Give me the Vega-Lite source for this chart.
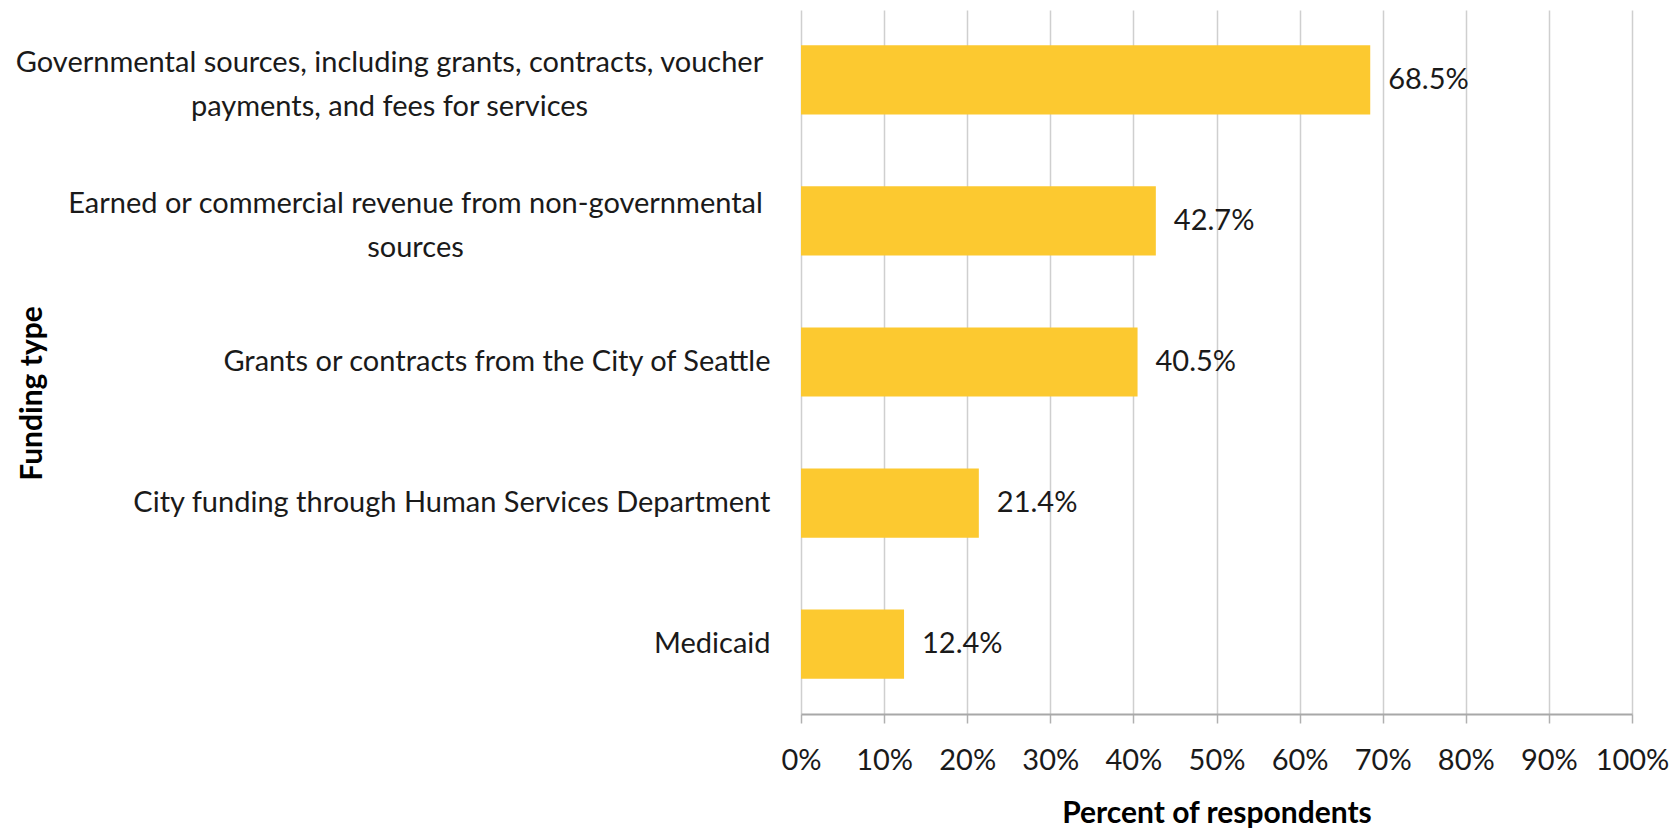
{
  "$schema": "https://vega.github.io/schema/vega-lite/v6.json",
  "autosize": "none",
  "width": 831,
  "height": 704,
  "padding": {"left": 801, "top": 10, "right": 46, "bottom": 116},
  "background": "white",
  "data": {
    "values": [
      {"type": "Governmental sources, including grants, contracts, voucher|payments, and fees for services", "pct": 0.685},
      {"type": "Earned or commercial revenue from non-governmental|sources", "pct": 0.427},
      {"type": "Grants or contracts from the City of Seattle", "pct": 0.405},
      {"type": "City funding through Human Services Department", "pct": 0.214},
      {"type": "Medicaid", "pct": 0.124}
    ]
  },
  "encoding": {
    "x": {
      "field": "pct",
      "type": "quantitative",
      "scale": {"domain": [0, 1], "nice": false},
      "axis": {
        "title": "Percent of respondents",
        "titleFont": "Lato",
        "titleFontSize": 30,
        "titleFontWeight": "bold",
        "titleColor": "#000000",
        "titleBaseline": "alphabetic",
        "titleY": 108,
        "format": "%",
        "values": [0, 0.1, 0.2, 0.3, 0.4, 0.5, 0.6, 0.7, 0.8, 0.9, 1],
        "labelFont": "Lato",
        "labelFontSize": 29,
        "labelColor": "#1a1a1a",
        "labelPadding": 23,
        "labelBaseline": "top",
        "labelFlush": false,
        "tickSize": 9,
        "tickColor": "#b0b0b0",
        "tickWidth": 1.5,
        "domainColor": "#a8a8a8",
        "domainWidth": 2,
        "grid": true,
        "gridColor": "#cfcfcf",
        "gridWidth": 1.5
      }
    }
  },
  "layer": [
    {
      "mark": {"type": "bar", "color": "#FCC930"},
      "encoding": {
        "y": {
          "field": "type",
          "type": "nominal",
          "sort": null,
          "scale": {
            "domain": [
              "Governmental sources, including grants, contracts, voucher|payments, and fees for services",
              "Earned or commercial revenue from non-governmental|sources",
              "Grants or contracts from the City of Seattle",
              "City funding through Human Services Department",
              "Medicaid"
            ],
            "paddingInner": 0.51,
            "paddingOuter": 0.25
          },
          "axis": {
            "orient": "left",
            "title": "Funding type",
            "titleFont": "Lato",
            "titleFontSize": 30,
            "titleFontWeight": "bold",
            "titleColor": "#000000",
            "titleAngle": 270,
            "titleAlign": "center",
            "titleBaseline": "middle",
            "titleX": -769,
            "titleY": 383,
            "labelExpr": "indexof(datum.label, '|') >= 0 ? '' : datum.label",
            "labelFont": "Lato",
            "labelFontSize": 29,
            "labelColor": "#1a1a1a",
            "labelPadding": 31,
            "labelLimit": 900,
            "labelAlign": "right",
            "domain": false,
            "ticks": false,
            "grid": false
          }
        }
      }
    },
    {
      "transform": [{"filter": "indexof(datum.type, 'Earned') !== 0"}],
      "mark": {"type": "text", "align": "left", "baseline": "middle", "dx": 18, "font": "Lato", "fontSize": 29, "color": "#1a1a1a"},
      "encoding": {
        "y": {
          "field": "type",
          "type": "nominal",
          "sort": null,
          "axis": {
            "orient": "left",
            "title": null,
            "offset": 381,
            "labelExpr": "indexof(datum.label, 'Governmental') === 0 ? split(datum.label, '|') : ''",
            "labelFont": "Lato",
            "labelFontSize": 29,
            "labelColor": "#1a1a1a",
            "labelLineHeight": 44,
            "labelPadding": 31,
            "labelLimit": 900,
            "labelAlign": "center",
            "labelOffset": -17,
            "domain": false,
            "ticks": false,
            "grid": false
          }
        },
        "text": {"field": "pct", "type": "quantitative", "format": ".1%"}
      }
    },
    {
      "transform": [{"filter": "indexof(datum.type, 'Earned') === 0"}],
      "mark": {"type": "text", "align": "left", "baseline": "middle", "dx": 18, "font": "Lato", "fontSize": 29, "color": "#1a1a1a"},
      "encoding": {
        "y": {
          "field": "type",
          "type": "nominal",
          "sort": null,
          "axis": {
            "orient": "left",
            "title": null,
            "offset": 355,
            "labelExpr": "indexof(datum.label, 'Earned') === 0 ? split(datum.label, '|') : ''",
            "labelFont": "Lato",
            "labelFontSize": 29,
            "labelColor": "#1a1a1a",
            "labelLineHeight": 44,
            "labelPadding": 31,
            "labelLimit": 900,
            "labelAlign": "center",
            "labelOffset": -17,
            "domain": false,
            "ticks": false,
            "grid": false
          }
        },
        "text": {"field": "pct", "type": "quantitative", "format": ".1%"}
      }
    }
  ],
  "resolve": {"axis": {"y": "independent"}},
  "config": {"view": {"stroke": null}}
}
